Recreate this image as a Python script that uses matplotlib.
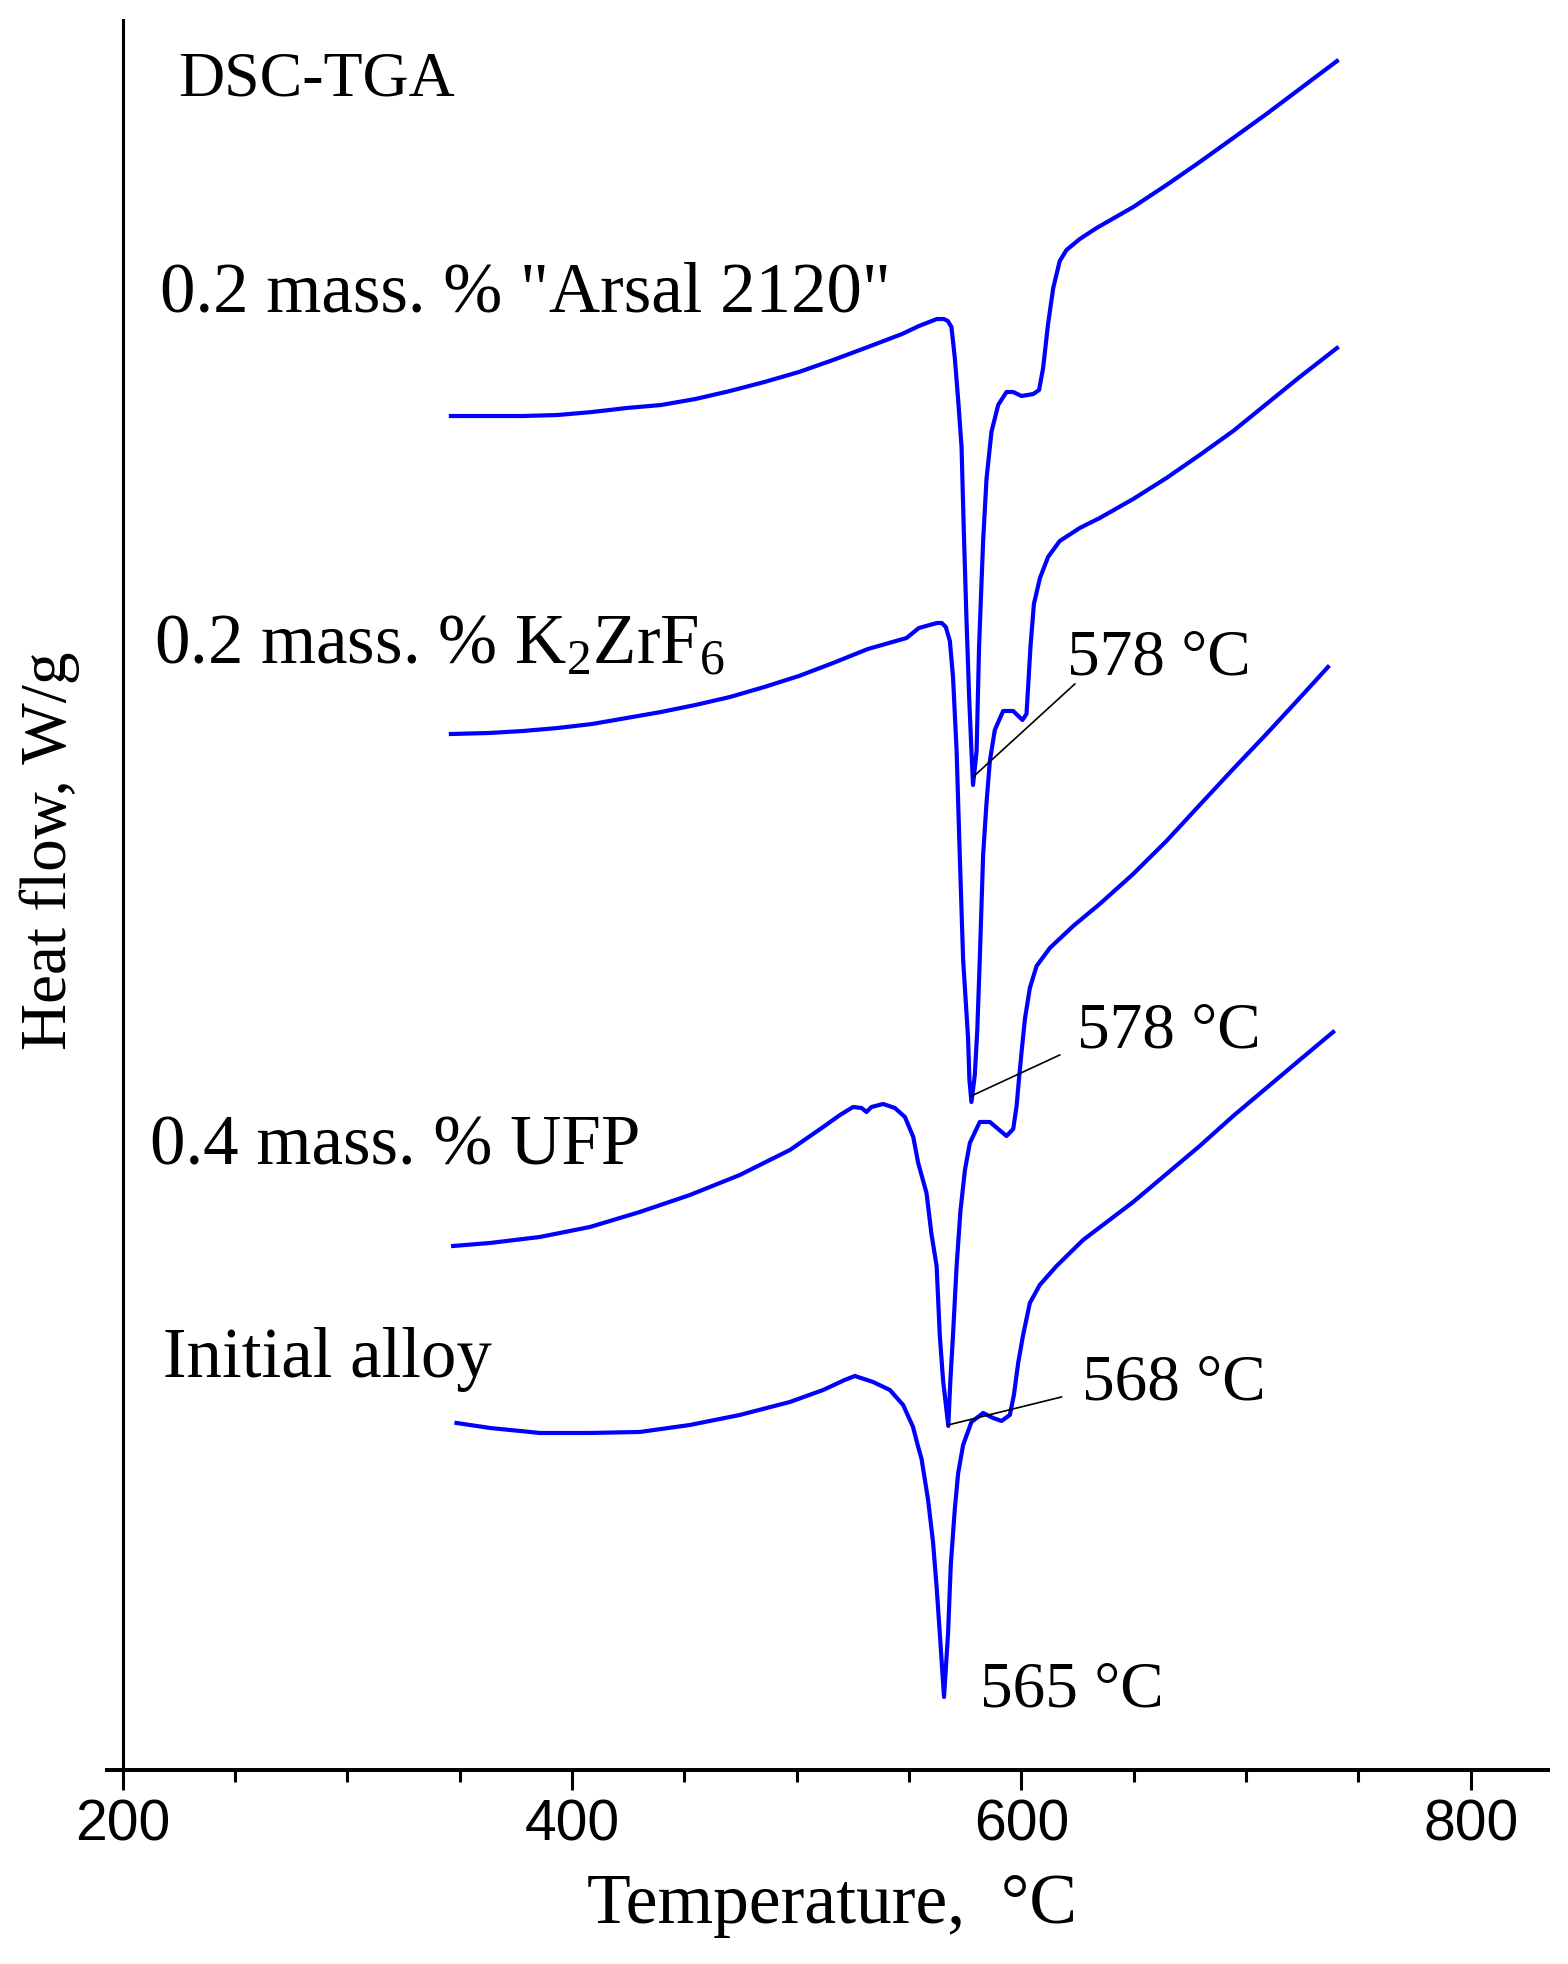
import numpy as np
import matplotlib
matplotlib.use("Agg")
import matplotlib.pyplot as plt
from matplotlib.ticker import MultipleLocator

plt.rcParams['mathtext.fontset'] = 'custom'
plt.rcParams['mathtext.rm'] = 'Liberation Serif'

SERIF = 'Liberation Serif'
SANS = 'Liberation Sans'
BLUE = '#0000ff'

#################################################
############  DATA ########
# temperature [deg C] / heat flow [arb. units, curves shifted vertically]

arsal_t = [346.1, 363.0, 378.2, 393.6, 408.9, 424.3, 439.6, 454.9, 470.3, 485.6,
           501.0, 516.2, 531.7, 546.9, 554.4, 562.4,
           565.5, 567.3, 568.9, 570.4, 571.9, 573.4, 574.4, 575.6, 576.8, 577.8,
           578.5, 580.1, 581.2, 583.0, 584.5, 586.7, 589.7, 593.4, 596.4, 600.1,
           605.3, 607.9, 609.7, 611.9, 614.2, 617.1, 620.1, 626.0, 633.5, 649.8,
           664.6, 679.4, 694.3, 709.1, 723.9, 740.5]
arsal_q = [13.54, 13.54, 13.54, 13.55, 13.58, 13.62, 13.65, 13.71, 13.79, 13.88,
           13.98, 14.10, 14.23, 14.36, 14.44, 14.51,
           14.51, 14.49, 14.43, 14.12, 13.70, 13.23, 12.39, 11.50, 10.72, 10.19,
           9.85, 10.19, 11.24, 12.29, 12.91, 13.38, 13.65, 13.78, 13.78, 13.74,
           13.76, 13.80, 14.02, 14.46, 14.82, 15.09, 15.20, 15.31, 15.42, 15.63,
           15.85, 16.08, 16.32, 16.56, 16.81, 17.09]

k2zrf6_t = [346.1, 363.0, 378.2, 393.6, 408.9, 424.3, 439.6, 454.9, 470.3, 485.6,
            501.0, 516.2, 531.7, 548.9, 554.4, 562.4,
            564.6, 566.4, 568.2, 569.6, 571.2, 572.6, 574.1, 576.3, 576.9, 577.8,
            579.3, 580.4, 581.5, 583.0, 584.5, 586.0, 588.2, 591.9, 596.4, 600.5,
            602.3, 603.0, 604.1, 605.6, 608.3, 611.9, 617.1, 626.0, 634.9, 649.8,
            664.6, 679.4, 694.3, 709.1, 723.9, 740.5]
k2zrf6_q = [10.36, 10.37, 10.39, 10.42, 10.46, 10.52, 10.58, 10.65, 10.73, 10.83,
            10.94, 11.07, 11.21, 11.32, 11.42, 11.47,
            11.47, 11.43, 11.29, 10.93, 10.19, 9.15, 8.10, 7.32, 6.90, 6.68,
            6.95, 7.40, 8.10, 9.15, 9.67, 10.09, 10.40, 10.59, 10.59, 10.50,
            10.56, 10.82, 11.24, 11.66, 11.92, 12.13, 12.29, 12.42, 12.52, 12.71,
            12.92, 13.15, 13.39, 13.66, 13.93, 14.22]

ufp_t = [347.1, 363.5, 385.7, 408.0, 430.2, 452.5, 474.7, 497.0, 511.8, 519.3,
         525.1, 528.9, 531.1, 533.3, 538.5, 543.7, 548.2, 551.9, 554.1, 557.8,
         560.0, 562.3, 563.7, 565.2, 567.5, 568.4, 569.6, 571.2, 572.9, 574.9,
         577.1, 581.5, 586.0, 589.7, 593.4, 596.4, 597.9, 599.0, 600.2, 601.6,
         603.8, 606.8, 612.7, 623.1, 634.9, 649.8, 664.6, 679.4, 694.3, 709.1,
         723.9, 736.5]
ufp_q = [5.24, 5.27, 5.33, 5.43, 5.58, 5.75, 5.95, 6.20, 6.43, 6.55,
         6.63, 6.62, 6.58, 6.63, 6.66, 6.62, 6.53, 6.33, 6.07, 5.77,
         5.36, 5.04, 4.35, 3.89, 3.44, 3.89, 4.35, 5.04, 5.59, 6.00,
         6.27, 6.48, 6.48, 6.41, 6.34, 6.41, 6.64, 6.92, 7.20, 7.51,
         7.82, 8.04, 8.22, 8.44, 8.66, 8.96, 9.29, 9.65, 10.01, 10.36,
         10.72, 11.03]

initial_t = [348.6, 363.5, 385.7, 408.0, 430.2, 452.5, 474.7, 497.0, 511.8, 521.4,
             525.9, 534.0, 541.5, 547.4, 551.8, 554.1, 555.6, 558.5, 560.7, 562.3,
             563.7, 565.6, 567.4, 568.6, 570.4, 571.9, 574.1, 577.8, 583.0, 587.4,
             591.2, 594.9, 596.7, 598.6, 600.8, 603.8, 608.2, 615.7, 627.5, 649.8,
             664.6, 679.4, 694.3, 709.1, 723.9, 738.8]
initial_q = [3.47, 3.42, 3.37, 3.37, 3.38, 3.45, 3.55, 3.68, 3.80, 3.90,
             3.94, 3.88, 3.80, 3.65, 3.43, 3.23, 3.11, 2.70, 2.28, 1.83,
             1.37, 0.73, 1.37, 2.05, 2.61, 2.97, 3.25, 3.48, 3.57, 3.52,
             3.49, 3.55, 3.75, 4.07, 4.35, 4.67, 4.85, 5.04, 5.30, 5.68,
             5.96, 6.24, 6.54, 6.82, 7.10, 7.38]

curve_labels = ['0.2 mass. % "Arsal 2120"',
                r'0.2 mass. % K$_\mathregular{2}$ZrF$_\mathregular{6}$',
                '0.4 mass. % UFP',
                'Initial alloy']
label_t = [216.6, 213.9, 212.1, 217.9]
label_q = [14.59, 11.07, 6.05, 3.93]

# peak temperatures with leader lines (start at the minimum, end near the text)
peak_text = ['578 °C', '578 °C', '568 °C', '565 °C']
leader_t0 = [578.5, 577.7, 567.4, None]
leader_q0 = [9.93, 6.74, 3.45, None]
leader_t1 = [623.8, 617.1, 617.9, None]
leader_q1 = [10.86, 7.15, 3.73, None]
peak_text_t = [620.2, 624.6, 626.9, 581.6]
peak_text_q = [10.96, 7.22, 3.70, 0.63]


#################################################
############  PLOTTING ##########################
fig = plt.figure(figsize=(15.68, 19.64), dpi=100)
ax = fig.add_axes([0.0682, 0.0988, 0.9190, 0.8910])

for t, q in [(arsal_t, arsal_q), (k2zrf6_t, k2zrf6_q),
             (ufp_t, ufp_q), (initial_t, initial_q)]:
    ax.plot(t, q, color=BLUE, lw=3.0, solid_joinstyle='round')

for txt, t, q in zip(curve_labels, label_t, label_q):
    ax.text(t, q, txt, fontsize=51, family=SERIF, ha='left', va='baseline')

ax.text(224.6, 16.75, 'DSC-TGA', fontsize=46, family=SERIF,
        ha='left', va='baseline')

for i, txt in enumerate(peak_text):
    if leader_t0[i] is not None:
        ax.plot([leader_t0[i], leader_t1[i]], [leader_q0[i], leader_q1[i]],
                color='black', lw=1.2)
    ax.text(peak_text_t[i], peak_text_q[i], txt, fontsize=47, family=SERIF,
            ha='left', va='baseline')

ax.set_xlim(193.0, 834.4)
ax.set_ylim(0, 17.5)

# axes look: only left and bottom lines, left line sits at 200
ax.spines['top'].set_visible(False)
ax.spines['right'].set_visible(False)
ax.spines['left'].set_position(('data', 200))
ax.spines['left'].set_linewidth(2.2)
ax.spines['bottom'].set_linewidth(2.9)
ax.set_yticks([])

ax.xaxis.set_major_locator(MultipleLocator(200))
ax.xaxis.set_minor_locator(MultipleLocator(50))
ax.tick_params(axis='x', which='major', length=14.4, width=2.2, pad=6,
               labelsize=41)
ax.tick_params(axis='x', which='minor', length=8.6, width=2.2)
for lab in ax.get_xticklabels():
    lab.set_family(SANS)

fig.text(832 / 1568, 1 - 1923 / 1964, 'Temperature,  °C', fontsize=51.5,
         family=SERIF, ha='center', va='baseline')
fig.text(50 / 1568, 1 - 851 / 1964, 'Heat flow, W/g', fontsize=47,
         family=SERIF, ha='center', va='center', rotation=90)

fig.savefig('out.png', dpi=100)
